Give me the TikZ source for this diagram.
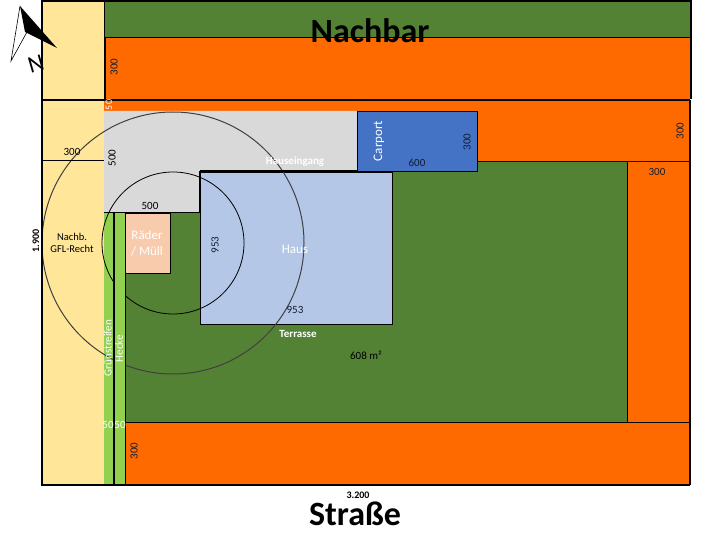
\documentclass[tikz,border=0pt]{standalone}
\usepackage{fontspec}
\setmainfont{Carlito}
\definecolor{plotyellow}{HTML}{FFE699}
\definecolor{plotgreen}{HTML}{548235}
\definecolor{plotorange}{HTML}{FF6A00}
\definecolor{plotgrey}{HTML}{D9D9D9}
\definecolor{plotblue}{HTML}{4472C4}
\definecolor{plothouse}{HTML}{B4C7E7}
\definecolor{plotbins}{HTML}{F8CBAD}
\definecolor{plotstrip}{HTML}{92D050}
\tikzstyle{every node}=[font=\fontsize{11}{13}\selectfont,inner sep=0pt]
\tikzstyle{outline}=[black,line width=.9pt]
\tikzstyle{border}=[black,line width=2pt]
\tikzstyle{dim}=[black!75!plotblue]
\tikzstyle{whitelabel}=[white]
\tikzstyle{boldlabel}=[font=\fontsize{34}{36}\selectfont\bfseries]
\tikzstyle{smallbold}=[font=\fontsize{10}{11}\selectfont\bfseries]
\begin{document}
\begin{tikzpicture}[x=1pt,y=-1pt]
    \useasboundingbox (0,0) rectangle (720,540);
    % areas
    \fill[plotyellow] (42,0) rectangle (104,485);
    \fill[plotgreen] (104,1) rectangle (690,38);
    \fill[plotorange] (105,38) rectangle (690,111);
    \fill[plotorange] (104,100) rectangle (690,111);
    \fill[plotorange] (477,111) rectangle (690,161);
    \fill[plotgreen] (125,161) rectangle (627,422);
    \fill[plotgreen] (125,200) rectangle (200,422);
    \fill[plotorange] (627,161) rectangle (689,422);
    \fill[plotorange] (125,422) rectangle (689,484);
    \fill[plotgrey] (104,111)--(357,111)--(357,171)--(200,171)--(200,212)--(104,212)--cycle;
    \fill[plotstrip] (104,212) rectangle (113,484);
    \draw[outline,fill=plotblue] (357,111) rectangle (477,171);
    \draw[outline,fill=plothouse] (200,172) rectangle (392,324);
    % radius circles
    \draw[black!75,line width=1pt] (173,243) circle (131);
    \draw[black,line width=.8pt] (173,243) circle (71);
    \fill[plotstrip] (115,212) rectangle (125,484);
    \draw[outline,fill=plotbins] (125,213) rectangle (170,273);
    % lines
    \draw[outline] (105,37)--(690,37);
    \draw[outline] (105,37)--(105,99);
    \draw[outline] (42,160)--(104,160);
    \draw[outline] (477,161)--(689,161);
    \draw[outline] (627,161)--(627,422);
    \draw[outline] (125,422)--(689,422);
    \draw[outline] (125,212)--(125,484);
    \draw[line width=1.5pt] (200,171)--(357,171);
    \draw[line width=1.5pt] (200,171)--(200,212);
    \draw[outline] (104,212)--(200,212);
    \draw[line width=2pt] (114,212)--(114,484);
    \draw[border] (42,0)--(42,485)--(690,485);
    \draw[border] (42,100)--(690,100);
    \draw[border] (42,1)--(691,1)--(691,99);
    \draw[border] (690,100)--(690,485);
    \draw[outline] (104,0)--(104,100);
    % north arrow
    \draw[black,line width=.6pt] (20,6)--(11,61)--(27,32);
    \fill[black] (20,6)--(25,32)--(57,48)--cycle;
    \node (north) [rotate=16,font=\fontsize{24}{24}\selectfont] at (36,64) {N};
    % labels
    \node (neighbour) [boldlabel] at (370,31) {Nachbar};
    \node (street) [boldlabel] at (355,514) {Straße};
    \node (width) [smallbold] at (358,495) {3.200};
    \node (height) [smallbold,rotate=90] at (36,241) {1.900};
    \node (topdim) [dim,rotate=90] at (114,67) {300};
    \node (stripdim) [white,rotate=90,font=\fontsize{10}{11}\selectfont] at (109,105) {50};
    \node (yarddim) at (72,152) {300};
    \node (greydim) [rotate=90] at (112,158) {500};
    \node (cornerdim) at (150,206) {500};
    \node (rightdim) [dim,rotate=90] at (680,131) {300};
    \node (sidedim) [dim] at (657,172) {300};
    \node (carportdim) [dim,rotate=90] at (467,142) {300};
    \node (carportlen) [dim] at (417,163) {600};
    \node (carport) [whitelabel,rotate=90,font=\fontsize{13}{15}\selectfont] at (379,141) {Carport};
    \node (entrance) [whitelabel,font=\fontsize{11}{12}\selectfont\bfseries] at (295,162) {Hauseingang};
    \node (house) [whitelabel,font=\fontsize{13}{15}\selectfont] at (295,249) {Haus};
    \node (househeight) [dim,rotate=90] at (215,245) {953};
    \node (housewidth) [dim] at (295,310) {953};
    \node (terrace) [whitelabel,font=\fontsize{11}{12}\selectfont\bfseries] at (298,334) {Terrasse};
    \node (size) at (366,355) {608 m²};
    \node (bins) [whitelabel,align=center,font=\fontsize{13}{16}\selectfont] at (147,243) {Räder\\/ Müll};
    \node (rightsgfl) [align=center,font=\fontsize{10.5}{12.5}\selectfont] at (72,243) {Nachb.\\GFL-Recht};
    \node (grass) [whitelabel,rotate=90] at (108,348) {Grünstreifen};
    \node (hedge) [whitelabel,rotate=90] at (119,348.5) {Hecke};
    \node (leftstrip) [whitelabel] at (108,425) {50};
    \node (rightstrip) [whitelabel] at (120,425) {50};
    \node (bottomdim) [dim,rotate=90] at (134,451) {300};
  \end{tikzpicture}
\end{document}
